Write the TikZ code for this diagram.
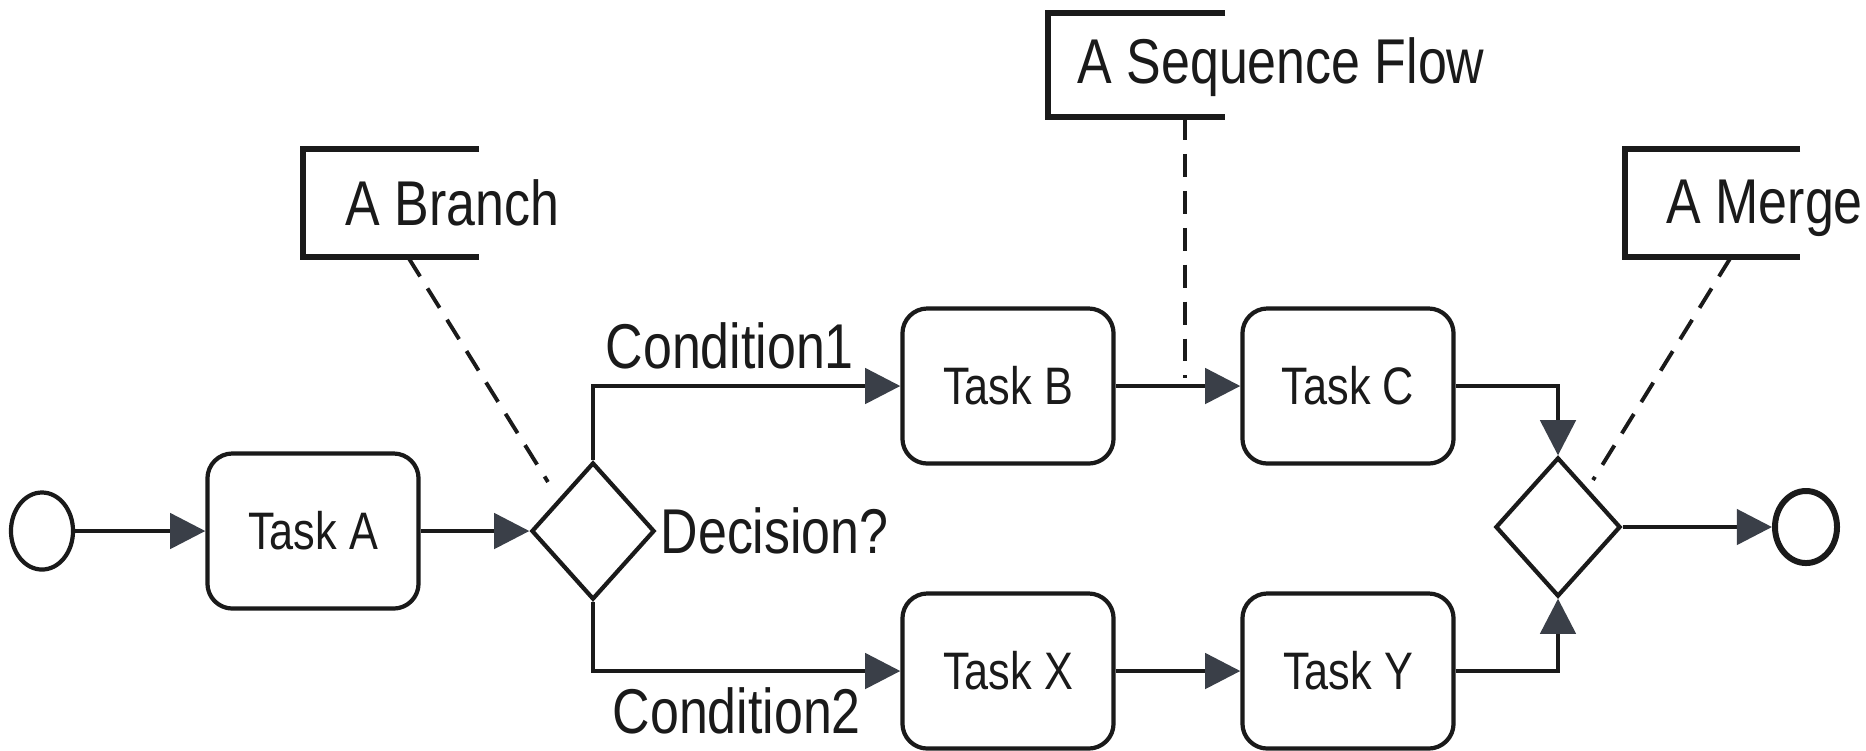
\documentclass[tikz,border=0pt]{standalone}
\usepackage{fontspec}
\setmainfont[FakeStretch=0.82]{Liberation Sans}
\usetikzlibrary{shapes.geometric,arrows.meta}
\definecolor{ink}{HTML}{1A1A1A}
\definecolor{head}{HTML}{3A3F48}
\begin{document}
\begin{tikzpicture}[x=0.01cm,y=-0.01cm,
  task/.style={draw=ink, line width=1.2pt, rounded corners=0.25cm, minimum width=2.11cm, minimum height=1.55cm, inner sep=0pt, font=\fontsize{15}{18}\selectfont, text=ink},
  gate/.style={draw=ink, line width=1.2pt, diamond, inner sep=0pt, minimum width=1.23cm, minimum height=1.37cm},
  event/.style={draw=ink, ellipse, inner sep=0pt},
  flow/.style={draw=ink, line width=1.2pt, -{Triangle[length=10pt,width=10pt,color=head]}},
  lbl/.style={font=\fontsize{18}{21}\selectfont, text=ink, inner sep=0pt, anchor=base west},
  assoc/.style={draw=ink, line width=1.1pt, dash pattern=on 6.5pt off 4pt},
  brk/.style={draw=ink, line width=1.5pt}
]
\useasboundingbox (0,0) rectangle (1866,750);
\fill[white] (0,0) rectangle (1866,750);

% nodes
\node[event, minimum width=0.62cm, minimum height=0.77cm, line width=1.2pt] (start) at (42,531) {};
\node[task] (ta) at (313,531) {Task A};
\node[gate] (d1) at (593,531) {};
\node[task] (tb) at (1008,386) {Task B};
\node[task] (tc) at (1348,386) {Task C};
\node[task] (tx) at (1008,671) {Task X};
\node[task] (ty) at (1348,671) {Task Y};
\node[gate, minimum width=1.25cm, minimum height=1.39cm] (d2) at (1558,527) {};
\node[event, minimum width=0.62cm, minimum height=0.72cm, line width=1.7pt] (end) at (1806,527) {};

% labels
\node[lbl] (c1) at (605,368) {Condition1};
\node[lbl] (c2) at (612,733) {Condition2};
\node[lbl] (dq) at (660,553) {Decision?};

% connectors
\draw[flow] (start) -- (ta);
\draw[flow] (ta) -- (d1);
\draw[flow] (d1.north) |- (tb.west);
\draw[flow] (d1.south) |- (tx.west);
\draw[flow] (tb) -- (tc);
\draw[flow] (tx) -- (ty);
\draw[flow] (tc.east) -| (d2.north);
\draw[flow] (ty.east) -| (d2.south);
\draw[flow] (d2) -- (end);

% annotations
\node[lbl] (nb) at (345,225) {A Branch};
\node[lbl] (ns) at (1077,83) {A Sequence Flow};
\node[lbl] (nm) at (1666,223) {A Merge};

\coordinate (b1) at (479,149); \coordinate (b2) at (303,149);
\coordinate (b3) at (303,257); \coordinate (b4) at (479,257);
\draw[brk] (b1) -- (b2) -- (b3) -- (b4);
\coordinate (s1) at (1225,13); \coordinate (s2) at (1048,13);
\coordinate (s3) at (1048,117); \coordinate (s4) at (1225,117);
\draw[brk] (s1) -- (s2) -- (s3) -- (s4);
\coordinate (m1) at (1800,149); \coordinate (m2) at (1625,149);
\coordinate (m3) at (1625,257); \coordinate (m4) at (1800,257);
\draw[brk] (m1) -- (m2) -- (m3) -- (m4);

\coordinate (ba) at (408,257); \coordinate (bb) at (548,482);
\draw[assoc] (ba) -- (bb);
\coordinate (sa) at (1185,117); \coordinate (sb) at (1185,378);
\draw[assoc] (sa) -- (sb);
\coordinate (ma) at (1731,257); \coordinate (mb) at (1593,480);
\draw[assoc] (ma) -- (mb);
\end{tikzpicture}
\end{document}
